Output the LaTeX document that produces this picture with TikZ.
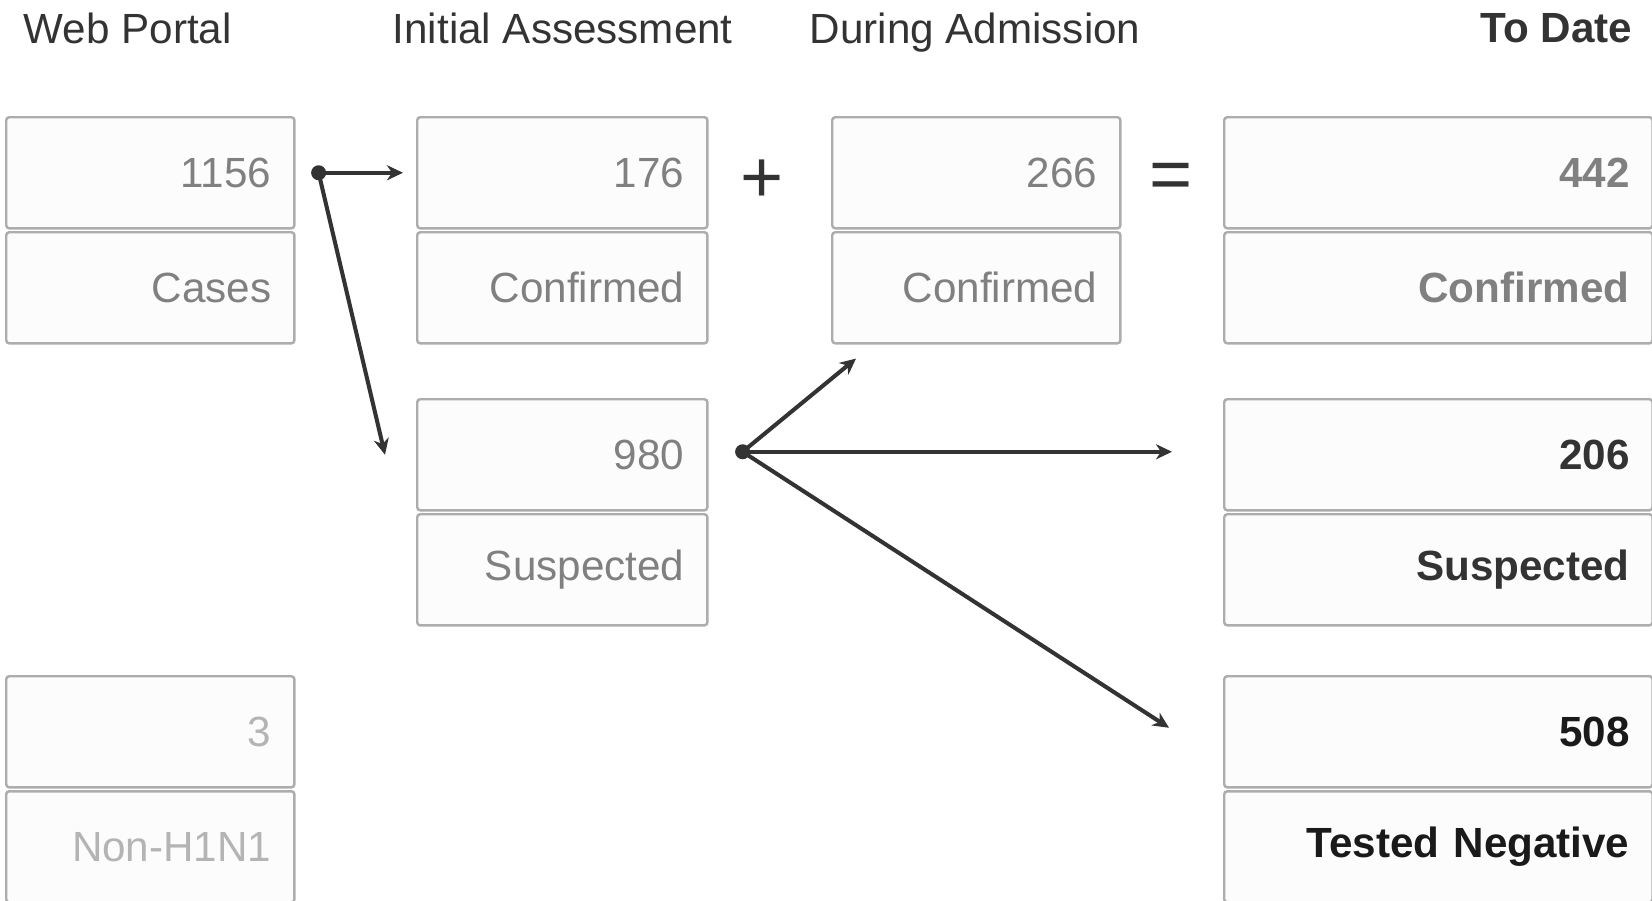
\documentclass[tikz,border=0pt]{standalone}
\usepackage{fontspec}
\setmainfont{Liberation Sans}
\usetikzlibrary{positioning, arrows.meta, calc}

\definecolor{ink}{HTML}{333333}
\definecolor{midgray}{HTML}{808080}
\definecolor{palegray}{HTML}{B4B4B4}
\definecolor{nearblack}{HTML}{1A1A1A}

\begin{document}
\begin{tikzpicture}[%
		x=0.01cm, y=-0.01cm,
		node distance=0.015cm,
		cell/.style={
			rectangle,
			rounded corners=0.03cm,
			draw=black!32,
			line width=0.7pt,
			fill=black!1,
			minimum height=1.11cm,
			inner xsep=0.23cm,
			inner ysep=0pt,
			text width=#1,
			align=right,
			text=midgray,
			font=\fontsize{12}{14}\selectfont
		},
		cell/.default=2.42cm,
		heading/.style={
			text=ink,
			inner sep=0pt,
			font=\fontsize{12}{14}\selectfont
		},
		sign/.style={
			text=ink,
			inner sep=0pt,
			font=\fontsize{21}{24}\selectfont
		},
		flow/.style={
			ink,
			line width=1.15pt,
			-{Stealth[length=0.16cm, width=0.15cm, inset=0.05cm]}
		}]

		\useasboundingbox (0,0) rectangle (1652,900);

		% HEADINGS

		\node [heading, anchor=base west] (hPortal) at (23,43) {Web Portal};
		\node [heading, anchor=base west] (hInitial) at (392,43) {Initial Assessment};
		\node [heading, anchor=base west] (hAdmit) at (809,43) {During Admission};
		\node [heading, anchor=base east] (hDate) at (1633,42) {\bfseries To Date};

		% WEB PORTAL

		\node [cell, anchor=north west] (portalN) at (5,116) {1156};
		\node [cell, below=of portalN] (portalL) {Cases};
		\node [cell, anchor=north west, text=palegray] (otherN) at (5,675) {3};
		\node [cell, below=of otherN, text=palegray] (otherL) {Non-H1N1};

		% INITIAL ASSESSMENT

		\node [cell=2.44cm, anchor=north west] (initN) at (416,116) {176};
		\node [cell=2.44cm, below=of initN] (initL) {Confirmed};
		\node [cell=2.44cm, anchor=north west] (suspN) at (416,398) {980};
		\node [cell=2.44cm, below=of suspN] (suspL) {Suspected};

		% DURING ADMISSION

		\node [cell, anchor=north west] (admitN) at (831,116) {266};
		\node [cell, below=of admitN] (admitL) {Confirmed};

		% TO DATE

		\node [cell=3.82cm, anchor=north west, font=\fontsize{12}{14}\selectfont\bfseries] (dateConfN) at (1223,116) {442};
		\node [cell=3.82cm, below=of dateConfN, font=\fontsize{12}{14}\selectfont\bfseries] (dateConfL) {Confirmed};
		\node [cell=3.82cm, anchor=north west, text=ink, font=\fontsize{12}{14}\selectfont\bfseries] (dateSuspN) at (1223,398) {206};
		\node [cell=3.82cm, below=of dateSuspN, text=ink, font=\fontsize{12}{14}\selectfont\bfseries] (dateSuspL) {Suspected};
		\node [cell=3.82cm, anchor=north west, text=nearblack, font=\fontsize{12}{14}\selectfont\bfseries] (dateNegN) at (1223,675) {508};
		\node [cell=3.82cm, below=of dateNegN, text=nearblack, font=\fontsize{12}{14}\selectfont\bfseries] (dateNegL) {Tested Negative};

		% SIGNS

		\node [sign] (plus) at (762,181) {+};
		\node [sign] (equals) at (1171,181) {=};

		% ARROWS

		\coordinate (fork1) at ($(portalN.east)+(23,0)$);
		\coordinate (fork2) at ($(suspN.east)+(34,-3)$);

		\draw[flow] (fork1) -- ($(initN.west)+(-13,0)$);
		\draw[flow] (fork1) -- ($(suspN.west)+(-31,0)$);
		\fill[ink] (fork1) circle (0.075cm);

		\draw[flow] (fork2) -- ($(admitL.south west)+(25,14)$);
		\draw[flow] (fork2) -- ($(dateSuspN.west)+(-51,-3)$);
		\draw[flow] (fork2) -- ($(dateNegN.west)+(-54,-4)$);
		\fill[ink] (fork2) circle (0.075cm);
\end{tikzpicture}
\end{document}
